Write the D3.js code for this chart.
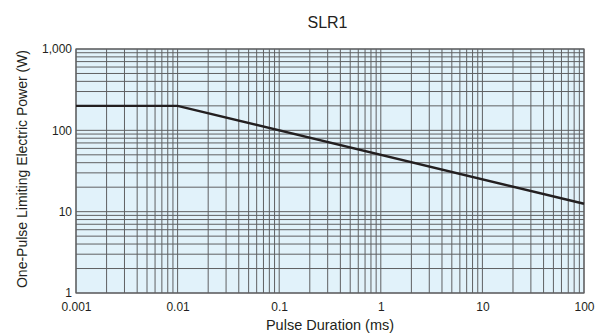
<!DOCTYPE html>
<html>
<head>
<meta charset="utf-8">
<script src="https://cdn.jsdelivr.net/npm/d3@7"></script>
<style>
  body { margin: 0; background: #fff; }
  text { font-family: "Liberation Sans", Arial, sans-serif; fill: #231f20; }
</style>
</head>
<body>
<svg id="chart" width="595" height="334"></svg>
<script>
var durations = [0.001, 0.01, 100];
var powers = [200, 200, 12.5];
var xTicks = [0.001, 0.01, 0.1, 1, 10, 100];
var yTicks = [1, 10, 100, 1000];

var svg = d3.select("#chart"),
    margin = {top: 49, right: 11, bottom: 41, left: 76},
    width = +svg.attr("width") - margin.left - margin.right,
    height = +svg.attr("height") - margin.top - margin.bottom;

var x = d3.scaleLog().domain([0.001, 100]).range([0, width]),
    y = d3.scaleLog().domain([1, 1000]).range([height, 0]);

var g = svg.append("g")
    .attr("transform", "translate(" + margin.left + "," + margin.top + ")");

g.append("rect")
    .attr("width", width)
    .attr("height", height)
    .style("fill", "#e1f2fa");

// minor grid, 1..9 in every decade
var xGrid = [], yGrid = [];
for (var d = 0.001; d < 100; d *= 10) {
  for (var k = 1; k < 10; k++) xGrid.push(+(d * k).toPrecision(3));
}
xGrid.push(100);
for (var e = 1; e < 1000; e *= 10) {
  for (var k = 1; k < 10; k++) yGrid.push(e * k);
}
yGrid.push(1000);

g.selectAll(".vgrid")
  .data(xGrid)
  .enter().append("line")
    .attr("class", "vgrid")
    .attr("x1", function(d) { return x(d); })
    .attr("x2", function(d) { return x(d); })
    .attr("y1", 0)
    .attr("y2", height)
    .style("stroke", "#5f6062")
    .style("stroke-width", 1);

g.selectAll(".hgrid")
  .data(yGrid)
  .enter().append("line")
    .attr("class", "hgrid")
    .attr("x1", 0)
    .attr("x2", width)
    .attr("y1", function(d) { return y(d); })
    .attr("y2", function(d) { return y(d); })
    .style("stroke", "#5f6062")
    .style("stroke-width", 1);

g.append("rect")
    .attr("width", width)
    .attr("height", height)
    .style("fill", "none")
    .style("stroke", "#5f6062")
    .style("stroke-width", 1.2);

var fmtX = function(d) { return d >= 1 ? d3.format("d")(d) : d3.format("")(d); };

g.append("g")
    .attr("transform", "translate(0," + height + ")")
    .call(d3.axisBottom(x).tickValues(xTicks).tickSize(0).tickPadding(9).tickFormat(fmtX))
    .call(function(a) { a.select(".domain").remove(); })
    .selectAll("text")
      .style("font-size", "12px");

g.append("g")
    .call(d3.axisLeft(y).tickValues(yTicks).tickSize(0).tickPadding(4).tickFormat(d3.format(",")))
    .call(function(a) { a.select(".domain").remove(); })
    .selectAll("text")
      .style("font-size", "12px");

var line = d3.line()
    .x(function(d) { return x(d[0]); })
    .y(function(d) { return y(d[1]); });

g.append("path")
    .datum(d3.zip(durations, powers))
    .attr("d", line)
    .style("fill", "none")
    .style("stroke", "#231f20")
    .style("stroke-width", 2.4);

svg.append("text")
    .attr("x", 327.5)
    .attr("y", 28)
    .attr("text-anchor", "middle")
    .style("font-size", "16px")
    .text("SLR1");

svg.append("text")
    .attr("x", 330)
    .attr("y", 330)
    .attr("text-anchor", "middle")
    .style("font-size", "14.5px")
    .text("Pulse Duration (ms)");

svg.append("text")
    .attr("transform", "translate(27," + (margin.top + height / 2 - 2) + ") rotate(-90)")
    .attr("text-anchor", "middle")
    .style("font-size", "14px")
    .text("One-Pulse Limiting Electric Power (W)");
</script>
</body>
</html>
